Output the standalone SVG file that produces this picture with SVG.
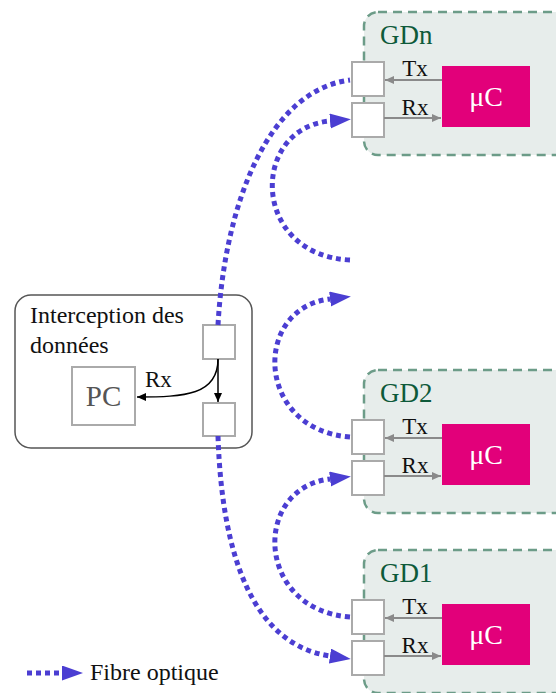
<svg xmlns="http://www.w3.org/2000/svg" width="556" height="693" viewBox="0 0 556 693">
<defs>
<style>
.txt{font-family:"Liberation Serif","Times New Roman",serif;fill:#111}
.gdlab{font-family:"Liberation Serif","Times New Roman",serif;font-size:27px;fill:#0e5a3a}
.gd{fill:#e7edeb;stroke:#6c9c88;stroke-width:2.5;stroke-dasharray:9 6}
.port{fill:#fff;stroke:#aaa;stroke-width:2}
.uc{fill:#e2007a}
.uctxt{font-family:"Liberation Serif","Times New Roman",serif;font-size:28px;fill:#fff;text-anchor:middle}
.sig{stroke:#8a8a8a;stroke-width:2;fill:none;marker-end:url(#ga)}
.fib{fill:none;stroke:#4b3ed2;stroke-width:5;stroke-dasharray:5 4}
.fiba{marker-end:url(#ba)}
.blk{fill:none;stroke:#000;stroke-width:1.5;marker-end:url(#ka)}
</style>
<marker id="ba" markerUnits="userSpaceOnUse" markerWidth="22" markerHeight="16" refX="0" refY="7.5" orient="auto"><path d="M0,0 L21,7.5 L0,15 Z" fill="#4b3ed2"/></marker>
<marker id="ga" markerUnits="userSpaceOnUse" markerWidth="10" markerHeight="10" refX="9" refY="4" orient="auto"><path d="M0,0 L9,4 L0,8 Z" fill="#8a8a8a"/></marker>
<marker id="ka" markerUnits="userSpaceOnUse" markerWidth="10" markerHeight="10" refX="9" refY="4" orient="auto"><path d="M0,0 L9,4 L0,8 Z" fill="#000"/></marker>
<g id="gdtpl">
<rect class="gd" x="364" y="12" width="220" height="143" rx="14"/>
<rect class="port" x="352" y="62" width="32" height="34"/>
<rect class="port" x="352" y="103" width="32" height="34"/>
<rect class="uc" x="442" y="66" width="88" height="61"/>
<text class="uctxt" x="486" y="106">μC</text>
<path class="sig" d="M442 80 L385 80"/>
<path class="sig" d="M384 118 L441 118"/>
<text class="txt" x="415" y="76" font-size="23" text-anchor="middle">Tx</text>
<text class="txt" x="415" y="115" font-size="23" text-anchor="middle">Rx</text>
</g>
</defs>
<g id="interception">
<rect x="15" y="295" width="237" height="153" rx="16" fill="#fff" stroke="#555" stroke-width="1.5"/>
<text class="txt" x="30" y="323" font-size="24">Interception des</text>
<text class="txt" x="30" y="353" font-size="24">données</text>
<rect x="72" y="367" width="63" height="58" fill="#fff" stroke="#aaa" stroke-width="2"/>
<text x="103.5" y="406" font-family="Liberation Serif, Times New Roman, serif" font-size="29" fill="#555" text-anchor="middle">PC</text>
<rect class="port" x="203" y="325" width="32" height="34"/>
<rect class="port" x="203" y="403" width="32" height="33"/>
<path class="blk" d="M218 359 L218 402"/>
<path class="blk" d="M218 359 C218 395 185 397 137 397"/>
<text class="txt" x="145" y="387" font-size="23">Rx</text>
</g>
<g id="GDn">
<use href="#gdtpl"/>
<text class="gdlab" x="380" y="44">GDn</text>
</g>
<g id="GD2" transform="translate(0,358)">
<use href="#gdtpl"/>
<text class="gdlab" x="380" y="44">GD2</text>
</g>
<g id="GD1" transform="translate(0,538)">
<use href="#gdtpl"/>
<text class="gdlab" x="380" y="44">GD1</text>
</g>
<g id="connectors">
<path class="fib" d="M218 325 C225 200 270 90 350 80"/>
<path class="fib fiba" d="M350 260 C250 255 250 128 330 121"/>
<path class="fib fiba" d="M350 437 C255 430 252 308 330 299"/>
<path class="fib fiba" d="M350 617 C255 610 252 488 330 479"/>
<path class="fib fiba" d="M218 436 C222 560 255 645 330 656"/>
</g>
<g id="legend">
<path class="fib fiba" d="M27 673 L62 673"/>
<text class="txt" x="90" y="680" font-size="24">Fibre optique</text>
</g>
</svg>
